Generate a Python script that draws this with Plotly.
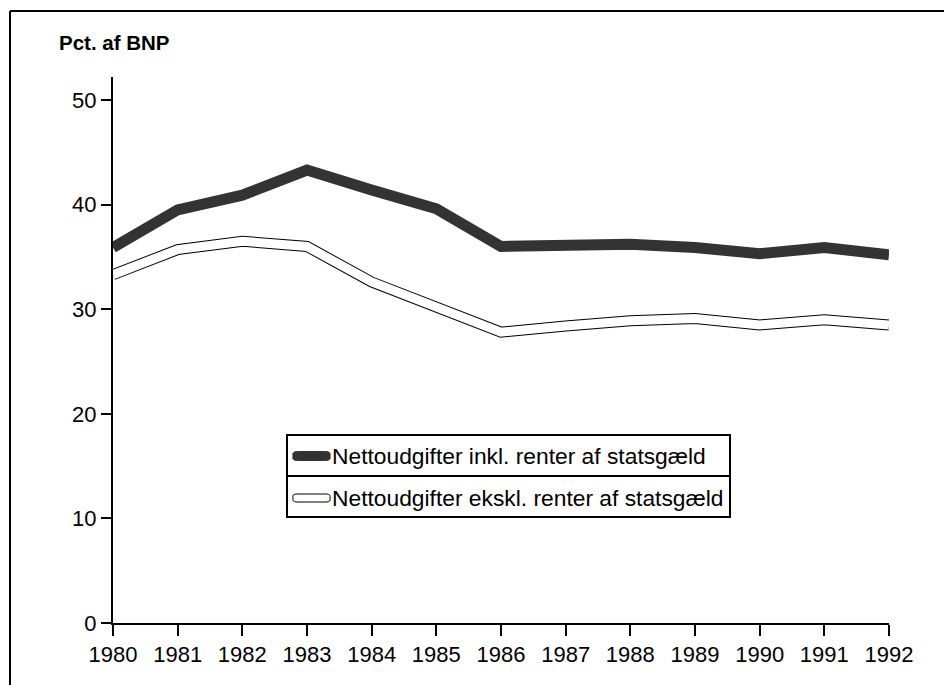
import plotly.graph_objects as go

years = list(range(1980, 1993))
inkl_renter = [35.9, 39.5, 40.9, 43.3, 41.4, 39.6, 36.0, 36.0, 36.2, 35.9, 35.3, 35.9, 35.2]
ekskl_renter = [33.3, 35.7, 36.5, 36.0, 32.6, 30.1, 27.8, 28.4, 28.9, 29.1, 28.5, 29.0, 28.5]
y_ticks = [0, 10, 20, 30, 40, 50]
legend_labels = ["Nettoudgifter inkl. renter af statsgæld",
                 "Nettoudgifter ekskl. renter af statsgæld"]
y_title = "Pct. af BNP"

OFF = 8  # page body margin
W, H = 952 - OFF, 685 - OFF
L, T = 113 - OFF, 77 - OFF
R = W - (889 - OFF)
B = H - (623 - OFF)
PW, PH = W - L - R, H - T - B

def px(x):
    # x given in reference-window pixels
    return (x - OFF - L) / PW

def py(y):
    return (H - B - (y - OFF)) / PH

FONT = "Liberation Sans, Arial, sans-serif"
DARK = "#333333"

fig = go.Figure()
fig.add_trace(go.Scatter(x=years, y=inkl_renter, mode="lines",
                         line=dict(color=DARK, width=11), cliponaxis=False,
                         showlegend=False, hoverinfo="skip"))
fig.add_trace(go.Scatter(x=years, y=ekskl_renter, mode="lines",
                         line=dict(color="black", width=11), cliponaxis=False,
                         showlegend=False, hoverinfo="skip"))
fig.add_trace(go.Scatter(x=years, y=ekskl_renter, mode="lines",
                         line=dict(color="white", width=9), cliponaxis=False,
                         showlegend=False, hoverinfo="skip"))

shapes = []
# outer frame (left and top)
shapes.append(dict(type="line", xref="paper", yref="paper", x0=px(10), x1=px(10),
                   y0=py(11), y1=py(700), line=dict(color="black", width=2)))
shapes.append(dict(type="line", xref="paper", yref="paper", x0=px(10), x1=px(960),
                   y0=py(11), y1=py(11), line=dict(color="black", width=2)))
# legend box
shapes.append(dict(type="rect", xref="paper", yref="paper", x0=px(287), x1=px(730),
                   y0=py(435), y1=py(517), line=dict(color="black", width=2),
                   fillcolor="white"))
shapes.append(dict(type="line", xref="paper", yref="paper", x0=px(287), x1=px(730),
                   y0=py(476), y1=py(476), line=dict(color="black", width=2)))

def pill(x0, x1, yc, h, fill, border):
    r = h / 2
    path = (f"M {px(x0 + r)},{py(yc - r)} L {px(x1 - r)},{py(yc - r)} "
            f"Q {px(x1 + r * 0.3)},{py(yc - r)} {px(x1)},{py(yc)} "
            f"Q {px(x1 + r * 0.3)},{py(yc + r)} {px(x1 - r)},{py(yc + r)} "
            f"L {px(x0 + r)},{py(yc + r)} "
            f"Q {px(x0 - r * 0.3)},{py(yc + r)} {px(x0)},{py(yc)} "
            f"Q {px(x0 - r * 0.3)},{py(yc - r)} {px(x0 + r)},{py(yc - r)} Z")
    return dict(type="path", xref="paper", yref="paper", path=path,
                fillcolor=fill, line=dict(color=border, width=1))

shapes.append(pill(293, 330, 456, 9, DARK, DARK))
shapes.append(pill(293, 330, 498, 8, "white", "black"))

annotations = [
    dict(text=legend_labels[0], xref="paper", yref="paper", x=px(330), y=py(456),
         xanchor="left", yanchor="middle", showarrow=False,
         font=dict(family=FONT, size=22.8, color="black")),
    dict(text=legend_labels[1], xref="paper", yref="paper", x=px(330), y=py(498),
         xanchor="left", yanchor="middle", showarrow=False,
         font=dict(family=FONT, size=22.8, color="black")),
    dict(text=y_title, xref="paper", yref="paper", x=px(57), y=py(42),
         xanchor="left", yanchor="middle", showarrow=False,
         font=dict(family=FONT, size=20.5, color="black", weight="bold")),
]

fig.update_layout(
    width=W, height=H,
    margin=dict(l=L, r=R, t=T, b=B, pad=0),
    paper_bgcolor="white", plot_bgcolor="white",
    shapes=shapes, annotations=annotations,
    showlegend=False,
    xaxis=dict(range=[1980, 1992], tickvals=years, ticktext=[str(y) for y in years],
               showgrid=False, zeroline=False, showline=True, linecolor="black",
               linewidth=2, ticks="outside", ticklen=11, tickwidth=2,
               tickcolor="black", tickfont=dict(family=FONT, size=22, color="black")),
    yaxis=dict(range=[0, 52.2], tickvals=y_ticks, showgrid=False, zeroline=False,
               showline=True, linecolor="black", linewidth=2, ticks="outside",
               ticklen=10, tickwidth=2, tickcolor="black",
               tickfont=dict(family=FONT, size=22, color="black")),
)

fig.write_html("out.html")
